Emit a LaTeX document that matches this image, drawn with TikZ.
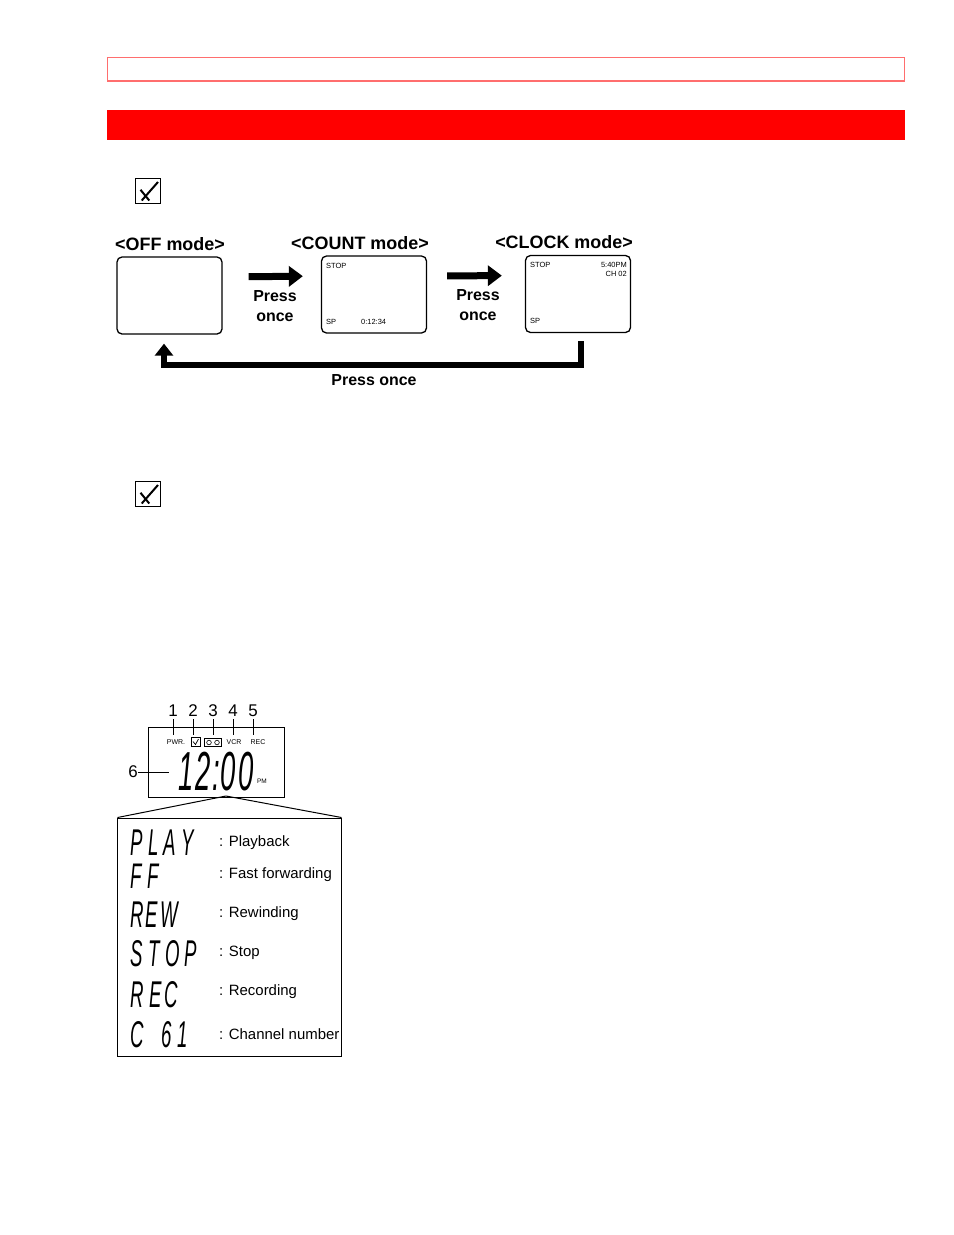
\documentclass[tikz,border=0pt]{standalone}
\usepackage{fontspec}
\setmainfont{Liberation Sans}
\usetikzlibrary{arrows.meta,calc}
\definecolor{lightred}{RGB}{255,110,110}
\newcommand{\lcdtxt}[2]{\scalebox{1.1}[#1]{#2}}
\newcommand{\gp}{\hspace{5bp}}
\begin{document}
\begin{tikzpicture}[x=1bp,y=-1bp,
  screen/.style={draw, line width=1.3bp, rounded corners=5bp, minimum width=105bp, minimum height=77bp, inner sep=0},
  modetitle/.style={font=\fontsize{18}{20}\selectfont\bfseries, inner sep=0},
  press/.style={font=\fontsize{16}{20}\selectfont\bfseries, align=center, inner sep=0},
  bigarrow/.style={line width=7bp, -{Triangle[length=14bp,width=20bp]}},
  retarrow/.style={line width=6bp, -{Triangle[length=12bp,width=18bp]}},
  tiny/.style={font=\fontsize{7.5}{9}\selectfont, inner sep=0},
  chk/.style={draw, line width=1.8bp, minimum size=25bp, inner sep=0},
  lcd/.style={font=\fontsize{17}{17}\selectfont\itshape, inner sep=0, anchor=west},
  lbl/.style={font=\fontsize{15}{17}\selectfont, anchor=west, inner sep=0},
  num/.style={font=\fontsize{17}{19}\selectfont, inner sep=0},
]
\path[use as bounding box, fill=white] (0,0) rectangle (954,1235);

% header
\draw[lightred, line width=1.2bp] (107.5,57.5) rectangle (904.5,81);
\fill[red] (107,110) rectangle (905,140);

% check boxes
\node[chk] (cb1) at (148,191) {};
\node[chk] (cb2) at (148,494) {};
\foreach \c in {cb1,cb2} {
  \draw[line width=2bp] ([shift={(-7.5bp,1.25bp)}]\c.center) -- ([shift={(1.25bp,-9.5bp)}]\c.center);
  \draw[line width=2bp] ([shift={(-6.25bp,-9.5bp)}]\c.center) -- ([shift={(10bp,9bp)}]\c.center);
}

% mode screens
\node[screen] (off) at (169.5,295.5) {};
\node[screen] (count) at (374,294.5) {};
\node[screen] (clock) at (578,294) {};
\node[modetitle] (offt) at (170,244) {<OFF mode>};
\node[modetitle] (countt) at (360,243) {<COUNT mode>};
\node[modetitle] (clockt) at (564,242) {<CLOCK mode>};

\node[tiny, anchor=west] (cstop) at (326,266) {STOP};
\node[tiny, anchor=west] (csp) at (326,322) {SP};
\node[tiny, anchor=west] (ctime) at (361,322) {0:12:34};
\node[tiny, anchor=west] (kstop) at (530,265) {STOP};
\node[tiny, anchor=east] (ktime) at (627,265) {5:40PM};
\node[tiny, anchor=east] (kch) at (627,274) {CH 02};
\node[tiny, anchor=west] (ksp) at (530,321) {SP};

\draw[bigarrow, shorten <=26bp, shorten >=18bp] ([yshift=18.5bp]off.east) -- ([yshift=18.5bp]count.west);
\draw[bigarrow, shorten <=20bp, shorten >=23bp] ([yshift=18.5bp]count.east) -- ([yshift=18.5bp]clock.west);
\node[press] (p1) at (275,306) {Press\\once};
\node[press] (p2) at (478,305) {Press\\once};

\draw[retarrow, shorten >=9bp] ([shift={(3bp,-8bp)}]clock.south) -- ++(0,24) -| ([xshift=-5.5bp]off.south);
\node[press] (p3) at (374,380) {Press once};

% LCD panel
\node[draw, line width=1bp, minimum width=136bp, minimum height=70bp, inner sep=0] (lcdp) at (216,762) {};
\foreach \i/\x in {1/173,2/193,3/213,4/233,5/253} {
  \node[num] (n\i) at (\x,711) {\i};
  \draw[line width=1bp] ([yshift=-2bp]n\i.south) -- ++(0,16);
}
\node[tiny, font=\fontsize{7}{8}\selectfont] (pwr) at (176,742) {PWR.};
\node[draw, line width=0.8bp, minimum size=9bp, inner sep=0] (ckic) at (195.5,742) {};
\draw[line width=0.7bp] ([shift={(-2.5bp,0.5bp)}]ckic.center) -- ([shift={(0bp,-2.5bp)}]ckic.center) -- ([shift={(3bp,3bp)}]ckic.center);
\node[draw, line width=0.8bp, minimum width=17bp, minimum height=8bp, inner sep=0] (tape) at (213,742.5) {};
\draw[line width=0.6bp] ([xshift=-4bp]tape.center) circle (2.3bp) ([xshift=4bp]tape.center) circle (2.3bp);
\node[tiny, font=\fontsize{7}{8}\selectfont] (vcr) at (234,742) {VCR};
\node[tiny, font=\fontsize{7}{8}\selectfont] (rec) at (258,742) {REC};

\node[num] (six) at (133,772) {6};
\draw[line width=1bp] (six.east) -- ++(31,0);
\node[inner sep=0, font=\fontsize{24}{24}\selectfont\itshape] (time) at (216,772) {\scalebox{1.15}[2.3]{1\hspace{2bp}2\hspace{1bp}:\hspace{1bp}0\hspace{2bp}0}};
\node[tiny, font=\fontsize{6.5}{7}\selectfont] (pm) at (262,781) {PM};

% legend
\coordinate (apex) at (226,796);
\node[draw, line width=1bp, minimum width=223bp, minimum height=238bp, inner sep=0] (legend) at (229.5,937) {};
\draw[line width=1bp] (apex) -- (legend.north west);
\draw[line width=1bp] (apex) -- (legend.north east);

\node[lcd] (g1) at (130,843) {\lcdtxt{2.2}{P\gp L\gp A\gp Y}};
\node[lcd] (g2) at (130,876.5) {\lcdtxt{2.1}{F\gp F}};
\node[lcd] (g3) at (130,915) {\lcdtxt{2.2}{R\hspace{2bp}E\hspace{2bp}W}};
\node[lcd] (g4) at (130,954) {\lcdtxt{2.2}{S\gp T\gp O\gp P}};
\node[lcd] (g5) at (130,995) {\lcdtxt{2.2}{R\gp E\hspace{3bp}C}};
\node[lcd] (g6) at (130,1035) {\lcdtxt{2.2}{C\hspace{16bp}6\gp 1}};

\node[lbl] (l1) at (219,843) {: Playback};
\node[lbl] (l2) at (219,875) {: Fast forwarding};
\node[lbl] (l3) at (219,914) {: Rewinding};
\node[lbl] (l4) at (219,953) {: Stop};
\node[lbl] (l5) at (219,992) {: Recording};
\node[lbl] (l6) at (219,1034) {: Channel number};
\end{tikzpicture}
\end{document}
